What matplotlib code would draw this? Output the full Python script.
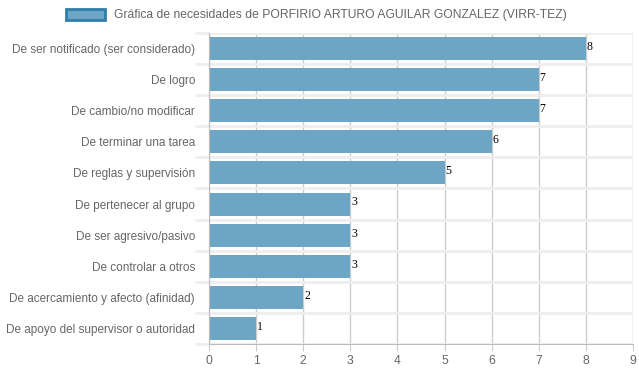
import numpy as np
import matplotlib.pyplot as plt
from matplotlib.patches import Rectangle

categories = [
    "De ser notificado (ser considerado)",
    "De logro",
    "De cambio/no modificar",
    "De terminar una tarea",
    "De reglas y supervisión",
    "De pertenecer al grupo",
    "De ser agresivo/pasivo",
    "De controlar a otros",
    "De acercamiento y afecto (afinidad)",
    "De apoyo del supervisor o autoridad",
]
values = [8, 7, 7, 6, 5, 3, 3, 3, 2, 1]
legend_label = "Gráfica de necesidades de PORFIRIO ARTURO AGUILAR GONZALEZ (VIRR-TEZ)"

plt.rcParams['font.family'] = ['Liberation Sans', 'DejaVu Sans']

W, H = 639, 372
fig = plt.figure(figsize=(W / 100, H / 100), dpi=100)
ax = fig.add_axes([209 / W, 1 - 344 / H, (633 - 209) / W, (344 - 33) / H])

y = np.arange(len(categories))
ax.barh(y, values, height=0.74, color='#6ca6c4', zorder=2)

ax.set_xlim(0, 9)
ax.set_ylim(len(categories) - 0.5, -0.5)
ax.set_xticks(range(10))
ax.set_yticks(y)
ax.set_yticklabels(categories)

# horizontal grid at band boundaries
ax.set_yticks(np.arange(-0.5, len(categories), 1), minor=True)
ax.grid(axis='y', which='minor', color='#eeeeee', lw=2, zorder=0)
ax.tick_params(axis='y', which='minor', length=10, color='#eeeeee', width=2)
# vertical grid on top so it shows through bars
ax.grid(axis='x', which='major', color='#000000', alpha=0.2, lw=1, zorder=3)

ax.tick_params(axis='y', which='major', length=0, pad=10, labelsize=8.5, labelcolor='#666666')
ax.tick_params(axis='x', length=5, color='#cccccc', pad=3, labelsize=8.7, labelcolor='#666666')

for s in ['top', 'right']:
    ax.spines[s].set_visible(False)
for s in ['left', 'bottom']:
    ax.spines[s].set_color('#bbbbbb')
    ax.spines[s].set_zorder(4)

for yi, v in zip(y, values):
    ax.text(v + 0.02, yi - 0.05, str(v), va='center', ha='left', fontsize=8.5,
            family='Liberation Serif', color='black', zorder=5)

# legend box at top
fig.patches.append(Rectangle((66 / W, 1 - 20 / H), 39 / W, 11 / H, transform=fig.transFigure,
                             facecolor='#6ca6c4', edgecolor='#2f7da9', lw=2))
fig.text(114 / W, 1 - 15 / H, legend_label, ha='left', va='center', fontsize=8.7, color='#666666')

fig.savefig('out.png', dpi=100)
